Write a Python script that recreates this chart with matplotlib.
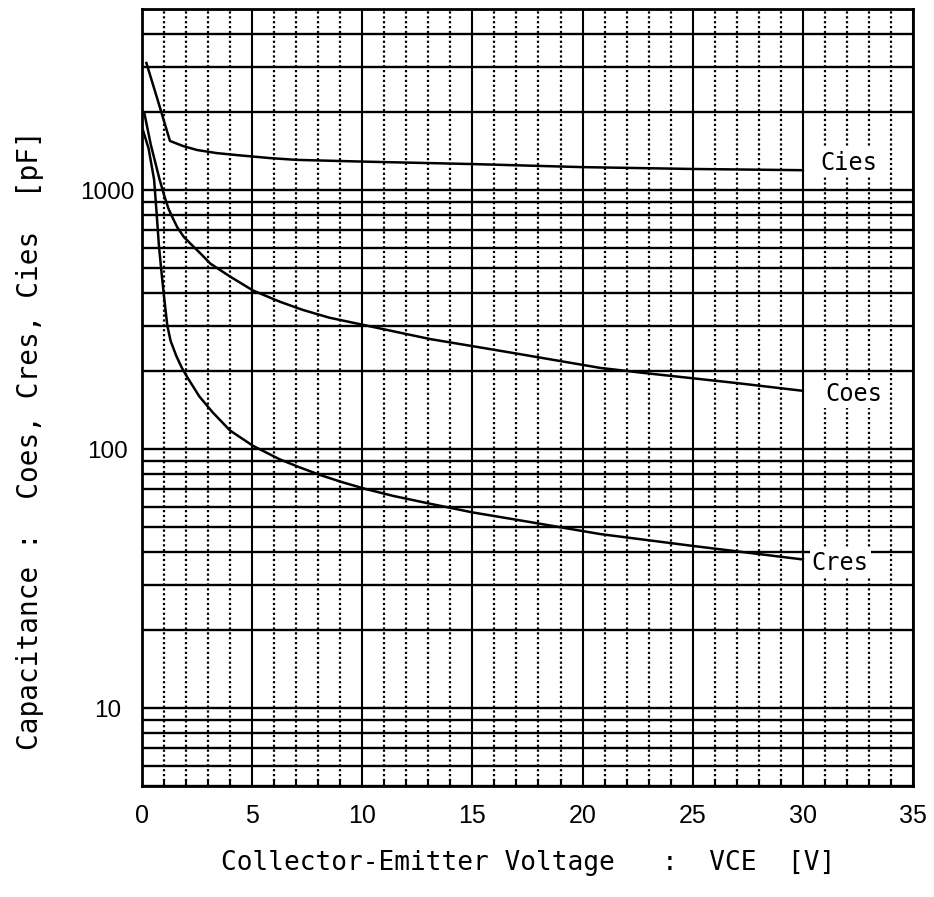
import numpy as np
import matplotlib
matplotlib.use("Agg")
import matplotlib.pyplot as plt
from matplotlib.ticker import MultipleLocator, LogLocator, FixedLocator, NullFormatter

# Collector-emitter voltage [V] and capacitances [pF]
vce_cies = [0.2, 0.7, 1.27, 1.86, 2.5, 3.4, 4.3, 5.8, 7.0, 10, 15, 20, 25, 30]
cies = [3100, 2250, 1550, 1482, 1430, 1391, 1367, 1331, 1310, 1290, 1262, 1228, 1208, 1195]

vce_coes = [0.1, 0.4, 0.8, 1.0, 1.2, 1.4, 1.6, 1.9, 2.3, 2.7, 3.1, 4.0, 5.04, 6.26,
            7.3, 8.5, 10.2, 11.6, 13.1, 15, 17, 20.8, 23, 27, 30]
coes = [2000, 1500, 1100, 960, 850, 780, 720, 660, 610, 565, 521, 464, 410, 371,
        345, 322, 300, 283, 266, 250, 234, 206, 196, 180, 168]

vce_cres = [0.05, 0.3, 0.55, 0.65, 0.77, 0.9, 1.0, 1.15, 1.3, 1.55, 1.8, 2.05, 2.6,
            3.2, 4.0, 5.04, 6.26, 7.17, 8.08, 9.1, 10.2, 11.4, 13.1, 15, 17.5,
            20.8, 25, 30]
cres = [1700, 1450, 1100, 850, 610, 470, 390, 300, 262, 230, 207, 190, 160,
        139, 118, 103, 91.3, 85, 79.5, 74.5, 70.0, 66.0, 61.5, 57, 52.5,
        47, 42.3, 37.5]

names = ["Cies", "Coes", "Cres"]
x_ticks = [0, 5, 10, 15, 20, 25, 30, 35]
y_ticks = [10, 100, 1000]

mono = "DejaVu Sans Mono"
sans = "Liberation Sans"

fig = plt.figure(figsize=(9.34, 8.97), dpi=100)
ax = fig.add_axes([0.152, 0.1237, 0.8255, 0.866])

ax.set_yscale("log")
ax.set_xlim(0, 35)
ax.set_ylim(5, 5000)

# grid: solid horizontal lines at every log subdivision
ax.yaxis.set_major_locator(FixedLocator(y_ticks))
ax.yaxis.set_minor_locator(LogLocator(base=10, subs=np.arange(2, 10)))
ax.yaxis.set_minor_formatter(NullFormatter())
ax.grid(True, axis="y", which="both", color="black", linestyle="-", linewidth=1.7)

# vertical: solid every 5 V, dotted every 1 V
ax.xaxis.set_major_locator(FixedLocator(x_ticks))
ax.xaxis.set_minor_locator(MultipleLocator(1))
ax.grid(True, axis="x", which="major", color="black", linestyle="-", linewidth=1.5)
ax.grid(True, axis="x", which="minor", color="black", linestyle=(0, (1, 1.2)), linewidth=1.6)

for sp in ax.spines.values():
    sp.set_linewidth(2)
    sp.set_color("black")

ax.set_xticklabels([str(t) for t in x_ticks], fontfamily=sans, fontsize=18)
ax.set_yticklabels([str(t) for t in y_ticks], fontfamily=sans, fontsize=17.5, ha="center")
ax.tick_params(axis="x", which="both", direction="in", length=5, width=1.5, pad=13)
ax.tick_params(axis="y", which="both", length=0, pad=25)
ax.tick_params(axis="x", which="major", length=0)

series = [(vce_cies, cies), (vce_coes, coes), (vce_cres, cres)]
label_shift = [1.07, 0.97, 0.97]
label_dx = [2.1, 2.3, 1.7]
for (v, c), name, f, dx in zip(series, names, label_shift, label_dx):
    ax.plot(v, c, color="black", linewidth=1.8, zorder=3)
    ax.text(v[-1] + dx, c[-1] * f, name, fontfamily=mono, fontsize=17,
            ha="center", va="center", zorder=4,
            bbox=dict(facecolor="white", edgecolor="none", pad=1.5))

fig.text(528 / 934, 1 - 863 / 897, "Collector-Emitter Voltage   :  VCE  [V]",
         fontfamily=mono, fontsize=18.8, ha="center", va="center")
fig.text(30 / 934, 1 - 440 / 897, "Capacitance :  Coes, Cres, Cies  [pF]",
         fontfamily=mono, fontsize=20, ha="center", va="center", rotation=90)

fig.savefig("out.png", dpi=100, facecolor="white")
